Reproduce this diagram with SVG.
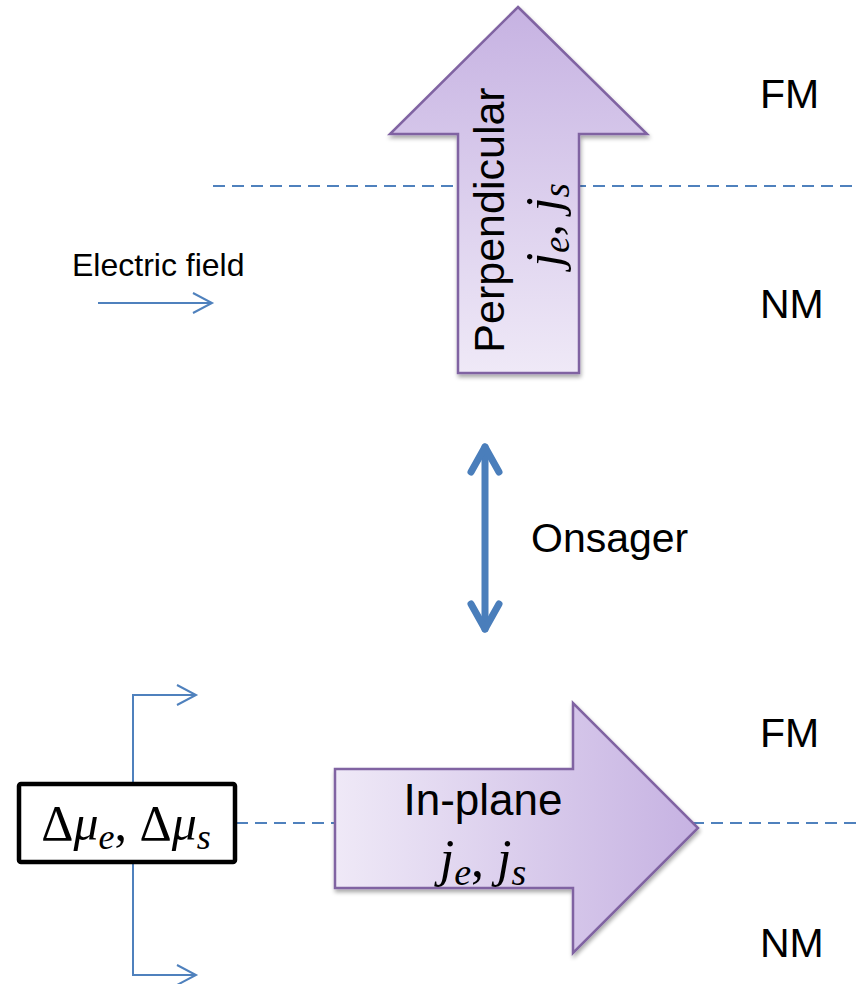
<svg xmlns="http://www.w3.org/2000/svg" width="859" height="984" viewBox="0 0 859 984">
<style>
.lbl{font-family:"Liberation Sans",Arial,sans-serif;fill:#000}
.math{font-family:"Liberation Serif","DejaVu Serif",serif;fill:#000}
.dash{stroke:#4f81bd;stroke-width:2;stroke-dasharray:12,7;fill:none}
.thin{stroke:#4f81bd;stroke-width:2;fill:none}
.big{stroke:#8064a2;stroke-width:2.5;stroke-linejoin:miter}
</style>
<defs>
<linearGradient id="gUp" x1="0" y1="0" x2="0" y2="1">
<stop offset="0" stop-color="#c6b2e2"/>
<stop offset="1" stop-color="#efe9f7"/>
</linearGradient>
<linearGradient id="gRight" x1="0" y1="0" x2="1" y2="0">
<stop offset="0" stop-color="#efe9f7"/>
<stop offset="1" stop-color="#c6b2e2"/>
</linearGradient>
<filter id="sh" x="-10%" y="-10%" width="120%" height="120%">
<feGaussianBlur in="SourceAlpha" stdDeviation="2"/>
<feOffset dx="1" dy="3"/>
<feComponentTransfer><feFuncA type="linear" slope="0.35"/></feComponentTransfer>
<feMerge><feMergeNode/><feMergeNode in="SourceGraphic"/></feMerge>
</filter>
</defs>
<g id="connectors">
<line class="dash" x1="213" y1="186" x2="859" y2="186"/>
<line class="dash" x1="236" y1="823" x2="859" y2="823"/>
<line class="thin" x1="98" y1="303" x2="211" y2="303"/>
<polyline class="thin" points="193,293 212,303 193,313"/>
<polyline class="thin" points="133,783 133,695 196,695"/>
<polyline class="thin" points="177,685 196,695 177,705"/>
<polyline class="thin" points="133,863 133,975 196,975"/>
<polyline class="thin" points="177,965 196,975 177,985"/>
<g id="onsager-arrow" stroke="#4a7ebb" stroke-width="7" stroke-linecap="round" stroke-linejoin="round" fill="none">
<line x1="485" y1="447" x2="485" y2="629"/>
<polyline points="471,472 485,447 499,472"/>
<polyline points="471,604 485,629 499,604"/>
</g>
</g>
<g id="perpendicular">
<polygon class="big" filter="url(#sh)" fill="url(#gUp)" points="518,7 647,134 579,134 579,373 458,373 458,134 390,134"/>
<text class="lbl" font-size="43" transform="translate(504,220) rotate(-90)" text-anchor="middle">Perpendicular</text>
<text class="math" font-size="50" transform="translate(560,225) rotate(-90)" text-anchor="middle"><tspan font-style="italic">j</tspan><tspan font-style="italic" font-size="37" dy="9">e</tspan><tspan dy="-9">, </tspan><tspan font-style="italic">j</tspan><tspan font-style="italic" font-size="37" dy="9">s</tspan></text>
</g>
<g id="inplane">
<polygon class="big" filter="url(#sh)" fill="url(#gRight)" points="335,769 573,769 573,703 698,828 573,953 573,888 335,888"/>
<text class="lbl" font-size="44" x="483" y="815" text-anchor="middle">In-plane</text>
<text class="math" font-size="52" x="483" y="876" text-anchor="middle"><tspan font-style="italic">j</tspan><tspan font-style="italic" font-size="38" dy="9">e</tspan><tspan dy="-9">, </tspan><tspan font-style="italic">j</tspan><tspan font-style="italic" font-size="38" dy="9">s</tspan></text>
</g>
<g id="mu-box">
<rect x="19" y="784" width="216" height="78" fill="#fff" stroke="#000" stroke-width="4.5" rx="2"/>
<text class="math" font-size="50" x="126" y="840" text-anchor="middle">Δ<tspan font-style="italic">μ</tspan><tspan font-style="italic" font-size="36" dy="9">e</tspan><tspan dy="-9">, Δ</tspan><tspan font-style="italic">μ</tspan><tspan font-style="italic" font-size="36" dy="9">s</tspan></text>
</g>
<g id="labels">
<text class="lbl" font-size="32" x="72" y="276">Electric field</text>
<text class="lbl" font-size="41" x="531" y="552">Onsager</text>
<text class="lbl" font-size="41" x="760" y="108">FM</text>
<text class="lbl" font-size="41" x="760" y="318">NM</text>
<text class="lbl" font-size="41" x="760" y="747">FM</text>
<text class="lbl" font-size="41" x="760" y="957">NM</text>
</g>
</svg>
